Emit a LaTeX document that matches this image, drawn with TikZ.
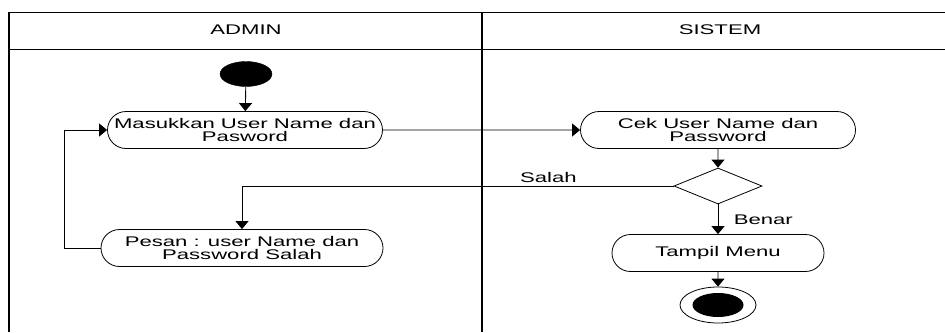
\documentclass[tikz,border=0pt]{standalone}
\usepackage{fontspec}
\setmainfont{Liberation Sans}[FakeStretch=1.58]
\usepackage{tikz}
\usetikzlibrary{arrows.meta,shapes.misc,shapes.geometric}
\tikzset{
  act/.style={draw, rounded rectangle, minimum width=275pt, minimum height=37pt, inner sep=0pt, align=center, line width=0.8pt},
  decide/.style={draw, diamond, aspect=2.44, minimum width=88pt, minimum height=36pt, inner sep=0pt, line width=0.8pt},
  flow/.style={-{Triangle[length=8pt,width=13pt]}, line width=0.9pt},
  every node/.style={font=\fontsize{14}{12.5}\selectfont}
}
\begin{document}
\begin{tikzpicture}[x=1pt,y=-1pt]
  \useasboundingbox (0,0) rectangle (945,332);
  \draw[line width=1.6pt] (9,332) -- (9,12);
  \draw[line width=0.8pt] (9,12) -- (945,12);
  \draw[line width=0.8pt] (9,49) -- (945,49);
  \draw[line width=1.6pt] (482,12) -- (482,332);
  \node (admin) at (246,30) {ADMIN};
  \node (sistem) at (720,30) {SISTEM};

  \node[draw, ellipse, fill=black, minimum width=52pt, minimum height=25pt, inner sep=0pt] (start) at (246,74) {};
  \node[act] (login) at (245,130) {Masukkan User Name dan\\Pasword};
  \node[act, minimum width=282pt] (pesan) at (242,248) {Pesan : user Name dan\\Password Salah};
  \node[act] (cek) at (718,130) {Cek User Name dan\\Password};
  \node[decide] (cabang) at (718,186) {};
  \node[act, minimum width=212pt] (menu) at (718,253) {Tampil Menu};
  \node[draw, ellipse, minimum width=76pt, minimum height=36pt, inner sep=0pt, line width=0.8pt] (akhir) at (718,305) {};
  \node[ellipse, fill=black, minimum width=51pt, minimum height=24pt, inner sep=0pt] at (akhir) {};

  \draw[flow] (start) -- (login);
  \draw[flow] (login) -- (cek);
  \draw[flow] (cek) -- (cabang);
  \draw[flow] (cabang) -- node[right, xshift=12pt] {Benar} (menu);
  \draw[flow] (menu) -- (akhir);
  \draw[flow] (cabang.west) -- node[pos=0.29, above] {Salah} (242,186) -- (pesan);
  \draw[flow] (pesan.west) -- (64,248) -- (64,130) -- (login.west);
\end{tikzpicture}
\end{document}
